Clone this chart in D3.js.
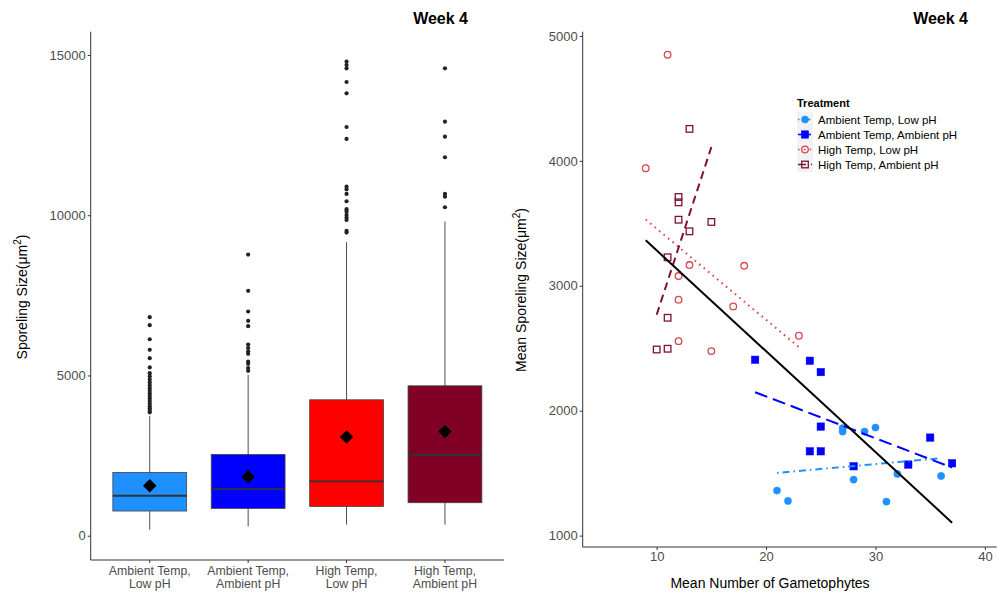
<!DOCTYPE html>
<html>
<head>
<meta charset="utf-8">
<script src="https://cdn.jsdelivr.net/npm/d3@7"></script>
<style>
    body { margin: 0; background: #fff; }
    svg { font-family: "Liberation Sans", Arial, sans-serif; }
    .tick text { fill: #4d4d4d; font-size: 13px; }
    .tick line, .domain { stroke: #333; }
    .axis-title { font-size: 14px; fill: #000; }
    .panel-title { font-size: 16px; font-weight: bold; fill: #000; }
    .cat-label { fill: #4d4d4d; font-size: 12.3px; }
</style>
</head>
<body>
<svg id="chart" width="997" height="593"></svg>
<script>
// Box plot summaries per treatment
const BOX_CATEGORIES = [
    ["Ambient Temp,", "Low pH"],
    ["Ambient Temp,", "Ambient pH"],
    ["High Temp,", "Low pH"],
    ["High Temp,", "Ambient pH"]
];
const BOX_COLORS = ["#1e90ff", "#0000ff", "#ff0000", "#800026"];
const BOX_LOWER_WHISKER = [187, 290, 343, 343];
const BOX_Q1 = [770, 851, 914, 1029];
const BOX_MEDIAN = [1247, 1456, 1693, 2526];
const BOX_Q3 = [1974, 2535, 4241, 4677];
const BOX_UPPER_WHISKER = [3742, 5020, 9158, 9801];
const BOX_MEAN = [1559, 1840, 3078, 3252];
const BOX_OUTLIERS = [
    [6820, 6570, 6130, 5800, 5540, 5250, 5070, 4970, 4870, 4780, 4690, 4600,
        4520, 4440, 4360, 4280, 4200, 4120, 4040, 3970, 3900, 3850],
    [8772, 7640, 6995, 6704, 6539, 5966, 5853, 5747, 5675, 5435, 5363, 5229, 5145],
    [14790, 14687, 14584, 14157, 13804, 12753, 12379, 10892, 10809, 10664,
        10436, 10187, 10112, 10009, 9925, 9853, 9511, 9458],
    [14584, 12919, 12451, 11809, 10664, 10580, 10249]
];
const BOX_TICKS = [0, 5000, 10000, 15000];

// Scatter: mean number of gametophytes vs mean sporeling size
const TREATMENTS = [
    "Ambient Temp, Low pH",
    "Ambient Temp, Ambient pH",
    "High Temp, Low pH",
    "High Temp, Ambient pH"
];
const POINTS_AT_LOW_PH = [
    [27, 1860], [27, 1833], [29, 1833], [30, 1865], [21, 1361],
    [22, 1278], [28, 1449], [31, 1272], [32, 1494], [36, 1478]
];
const POINTS_AT_AMB_PH = [
    [19, 2408], [24, 2400], [25, 2309], [25, 1873], [24, 1675],
    [25, 1675], [28, 1555], [33, 1569], [35, 1785], [37, 1579]
];
const POINTS_HT_LOW_PH = [
    [9, 3941], [11, 4850], [12, 3078], [12, 2889], [12, 2557],
    [13, 3166], [15, 2477], [17, 2835], [18, 3160], [23, 2600]
];
const POINTS_HT_AMB_PH = [
    [13, 4256], [12, 3711], [12, 3668], [12, 3529], [15, 3511],
    [13, 3436], [11, 3228], [11, 2744], [11, 2496], [10, 2490]
];

// Fitted lines, end points
const FIT_AT_LOW_PH = [[21, 1502], [36, 1620]];
const FIT_AT_AMB_PH = [[19, 2148], [37, 1545]];
const FIT_HT_LOW_PH = [[9, 3530], [23, 2509]];
const FIT_HT_AMB_PH = [[10, 2768], [15, 4111]];
const FIT_ALL = [[9, 3364], [37, 1104]];

const SCATTER_X_TICKS = [10, 20, 30, 40];
const SCATTER_Y_TICKS = [1000, 2000, 3000, 4000, 5000];

const svg = d3.select("#chart");
const plainNumber = d3.format("d");

const addSizeTitle = (g, label, x, y) => {
    const t = g.append("text")
        .classed("axis-title", true)
        .attr("transform", "translate(" + x + " " + y + ") rotate(-90)")
        .attr("text-anchor", "middle");
    t.append("tspan").text(label + "(\u03bcm");
    t.append("tspan").attr("dy", -6).attr("font-size", "10px").text("2");
    t.append("tspan").attr("dy", 6).text(")");
};

// ---------- Left panel: box plots ----------
const drawBoxPanel = () => {
    const g = svg.append("g");
    const indexes = BOX_CATEGORIES.map((d, i) => i);

    const xScale = d3.scaleBand()
        .domain(indexes)
        .range([90.7, 504])
        .paddingInner(0.25)
        .paddingOuter(0.225);
    const yScale = d3.scaleLinear()
        .domain([-758, 15726])
        .range([560, 31.7]);

    const bw = xScale.bandwidth();
    const cx = (i) => xScale(i) + bw / 2;

    // Whiskers
    g.selectAll(".whisker")
        .data(indexes)
        .enter().append("line")
        .classed("whisker", true)
        .attr("x1", cx).attr("x2", cx)
        .attr("y1", (i) => yScale(BOX_LOWER_WHISKER[i]))
        .attr("y2", (i) => yScale(BOX_UPPER_WHISKER[i]))
        .attr("stroke", "#4d4d4d")
        .attr("stroke-width", 1);

    // Boxes
    g.selectAll(".box")
        .data(indexes)
        .enter().append("rect")
        .classed("box", true)
        .attr("x", (i) => xScale(i))
        .attr("width", bw)
        .attr("y", (i) => yScale(BOX_Q3[i]))
        .attr("height", (i) => yScale(BOX_Q1[i]) - yScale(BOX_Q3[i]))
        .attr("fill", (i) => BOX_COLORS[i])
        .attr("stroke", "#444")
        .attr("stroke-width", 0.8);

    // Medians
    g.selectAll(".median")
        .data(indexes)
        .enter().append("line")
        .classed("median", true)
        .attr("x1", (i) => xScale(i))
        .attr("x2", (i) => xScale(i) + bw)
        .attr("y1", (i) => yScale(BOX_MEDIAN[i]))
        .attr("y2", (i) => yScale(BOX_MEDIAN[i]))
        .attr("stroke", "#333")
        .attr("stroke-width", 1.8);

    // Outliers
    const outliers = indexes.flatMap((i) => BOX_OUTLIERS[i].map((v) => ({ i: i, v: v })));
    g.selectAll(".outlier")
        .data(outliers)
        .enter().append("circle")
        .classed("outlier", true)
        .attr("cx", (d) => cx(d.i))
        .attr("cy", (d) => yScale(d.v))
        .attr("r", 2.1)
        .attr("fill", "#222");

    // Means
    g.selectAll(".mean")
        .data(indexes)
        .enter().append("path")
        .classed("mean", true)
        .attr("d", d3.symbol().type(d3.symbolSquare).size(90))
        .attr("transform", (i) => "translate(" + cx(i) + " " + yScale(BOX_MEAN[i]) + ") rotate(45)")
        .attr("fill", "#000");

    // Axes
    const yAxis = g.append("g")
        .attr("transform", "translate(90.7 0)")
        .call(d3.axisLeft(yScale).tickValues(BOX_TICKS).tickFormat(plainNumber)
            .tickSize(3).tickPadding(2));
    yAxis.select(".domain").attr("d", "M0,31.7V560");

    const xAxis = g.append("g")
        .attr("transform", "translate(0 560)")
        .call(d3.axisBottom(xScale).tickSize(3).tickPadding(3).tickFormat(""));
    xAxis.select(".domain").attr("d", "M90.7,0H504");
    xAxis.selectAll(".tick text").remove();

    // Two-line category labels, one text per line
    const labelLines = indexes.flatMap((i) => BOX_CATEGORIES[i].map((text, k) => ({ i: i, k: k, text: text })));
    g.selectAll(".cat-label")
        .data(labelLines)
        .enter().append("text")
        .classed("cat-label", true)
        .attr("x", (d) => cx(d.i))
        .attr("y", (d) => 575 + d.k * 13.2)
        .attr("text-anchor", "middle")
        .text((d) => d.text);

    addSizeTitle(g, "Sporeling Size", 27, 297);

    g.append("text")
        .classed("panel-title", true)
        .attr("x", 468)
        .attr("y", 24)
        .attr("text-anchor", "end")
        .text("Week 4");
};

// ---------- Right panel: scatter with fits ----------
const drawScatterPanel = () => {
    const g = svg.append("g");

    const xScale = d3.scaleLinear().domain([3.24, 41.08]).range([582.7, 996.7]);
    const yScale = d3.scaleLinear().domain([909, 5034]).range([547, 31.7]);

    const styles = [
        { color: "#1e90ff", shape: "circle", fill: true, dash: "1.5,4,7,4", points: POINTS_AT_LOW_PH, fit: FIT_AT_LOW_PH },
        { color: "#0000ff", shape: "square", fill: true, dash: "13,6", points: POINTS_AT_AMB_PH, fit: FIT_AT_AMB_PH },
        { color: "#d9464b", shape: "circle", fill: false, dash: "1.6,4.2", points: POINTS_HT_LOW_PH, fit: FIT_HT_LOW_PH },
        { color: "#7d1238", shape: "square", fill: false, dash: "8,5", points: POINTS_HT_AMB_PH, fit: FIT_HT_AMB_PH }
    ];

    const line = d3.line().x((d) => xScale(d[0])).y((d) => yScale(d[1]));

    const drawMark = (sel, s, x, y) => {
        if (s.shape == "circle") {
            sel.append("circle")
                .attr("cx", x).attr("cy", y)
                .attr("r", s.fill ? 3.6 : 3.3)
                .attr("fill", s.fill ? s.color : "none")
                .attr("stroke", s.color)
                .attr("stroke-width", s.fill ? 0.5 : 1.3);
        } else {
            const size = s.fill ? 7.4 : 6.6;
            sel.append("rect")
                .attr("x", x - size / 2).attr("y", y - size / 2)
                .attr("width", size).attr("height", size)
                .attr("fill", s.fill ? s.color : "none")
                .attr("stroke", s.color)
                .attr("stroke-width", s.fill ? 0.5 : 1.3);
        }
    };

    // Points
    styles.forEach((s) => {
        s.points.forEach((p) => drawMark(g, s, xScale(p[0]), yScale(p[1])));
    });

    // Fit lines
    styles.forEach((s) => {
        g.append("path")
            .attr("d", line(s.fit))
            .attr("fill", "none")
            .attr("stroke", s.color)
            .attr("stroke-width", 2)
            .attr("stroke-dasharray", s.dash);
    });
    g.append("path")
        .attr("d", line(FIT_ALL))
        .attr("fill", "none")
        .attr("stroke", "#000")
        .attr("stroke-width", 2);

    // Axes
    const yAxis = g.append("g")
        .attr("transform", "translate(582.7 0)")
        .call(d3.axisLeft(yScale).tickValues(SCATTER_Y_TICKS).tickFormat(plainNumber)
            .tickSize(3).tickPadding(2));
    yAxis.select(".domain").attr("d", "M0,31.7V547");

    const xAxis = g.append("g")
        .attr("transform", "translate(0 547)")
        .call(d3.axisBottom(xScale).tickValues(SCATTER_X_TICKS).tickFormat(plainNumber)
            .tickSize(3).tickPadding(2));
    xAxis.select(".domain").attr("d", "M582.7,0H996.7");

    g.append("text")
        .classed("axis-title", true)
        .attr("x", 770)
        .attr("y", 588)
        .attr("text-anchor", "middle")
        .text("Mean Number of Gametophytes");

    addSizeTitle(g, "Mean Sporeling Size", 526, 290);

    g.append("text")
        .classed("panel-title", true)
        .attr("x", 968)
        .attr("y", 24)
        .attr("text-anchor", "end")
        .text("Week 4");

    // Legend
    const legend = g.append("g").attr("transform", "translate(797 0)");
    legend.append("text")
        .attr("x", 0).attr("y", 107)
        .attr("font-size", "11px")
        .attr("font-weight", "bold")
        .text("Treatment");

    styles.forEach((s, i) => {
        const ky = 112 + i * 15;
        const key = legend.append("g");
        key.append("rect")
            .attr("x", 0).attr("y", ky)
            .attr("width", 16).attr("height", 15)
            .attr("fill", "#f2f2f2");
        key.append("line")
            .attr("x1", 1).attr("x2", 15)
            .attr("y1", ky + 7.5).attr("y2", ky + 7.5)
            .attr("stroke", s.color)
            .attr("stroke-width", 1.6)
            .attr("stroke-dasharray", s.dash);
        drawMark(key, s, 8, ky + 7.5);
        legend.append("text")
            .attr("x", 21).attr("y", ky + 11.5)
            .attr("font-size", "11.5px")
            .attr("fill", "#000")
            .text(TREATMENTS[i]);
    });
};

drawBoxPanel();
drawScatterPanel();
</script>
</body>
</html>
